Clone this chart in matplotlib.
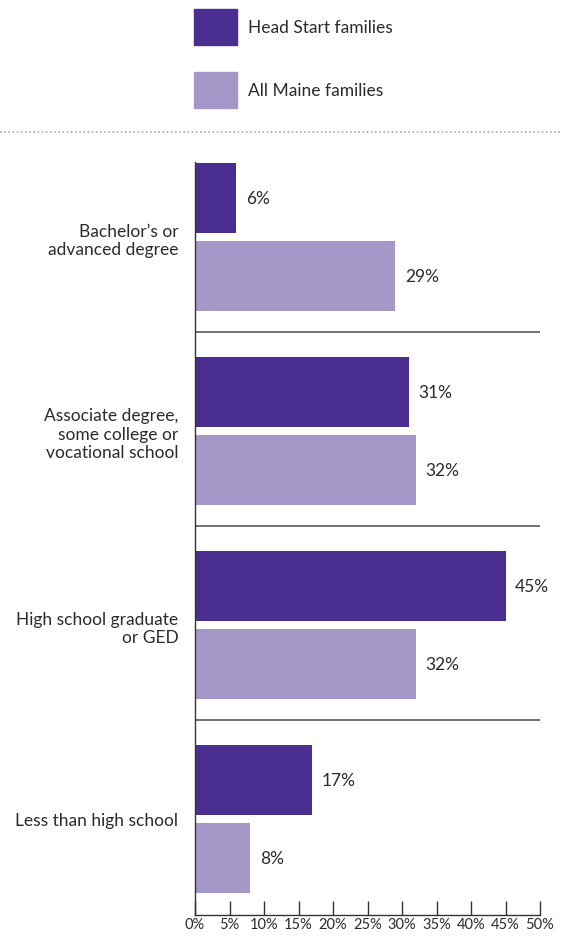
import matplotlib.pyplot as plt
import matplotlib.patches as mpatches
import numpy as np

plt.rcParams['font.family'] = ['Lato', 'DejaVu Sans']

# data
categories = ["Bachelor\u2019s or\nadvanced degree",
              "Associate degree,\nsome college or\nvocational school",
              "High school graduate\nor GED",
              "Less than high school"]
head_start = [6, 31, 45, 17]
all_maine  = [29, 32, 32, 8]
series_names = ["Head Start families", "All Maine families"]
colors = ["#4a2f91", "#a597c8"]
xticks = [0, 5, 10, 15, 20, 25, 30, 35, 40, 45, 50]

W, H = 561, 937
fig = plt.figure(figsize=(W/100., H/100.), dpi=100)

# axes placed in pixel terms
x0, x1 = 195, 540
ytop, ybot = 163, 916
ax = fig.add_axes([x0/W, 1-ybot/H, (x1-x0)/W, (ybot-ytop)/H])

ypos = np.arange(len(categories))
bh = 0.36
off = 0.201

ax.barh(ypos-off, head_start, height=bh, color=colors[0])
ax.barh(ypos+off, all_maine, height=bh, color=colors[1])

tc = "#2b2b2b"
for y, v in zip(ypos-off, head_start):
    ax.annotate("%d%%" % v, (v, y), xytext=(7, 0), textcoords='offset points',
                va='center', ha='left', fontsize=12.5, color=tc)
for y, v in zip(ypos+off, all_maine):
    ax.annotate("%d%%" % v, (v, y), xytext=(7, 0), textcoords='offset points',
                va='center', ha='left', fontsize=12.5, color=tc)

# separators between groups
for y in ypos[:-1]+0.49:
    ax.axhline(y, color="#666666", lw=1.3)

ax.set_xlim(0, 50)
ax.set_ylim(3.495, -0.387)
ax.set_xticks(xticks)
ax.set_xticklabels(["%d%%" % t for t in xticks], fontsize=10.5, color=tc)
ax.set_yticks(ypos)
ax.set_yticklabels(categories, fontsize=12.5, color=tc, linespacing=1.2)
ax.tick_params(axis='y', length=0, pad=12)
ax.tick_params(axis='x', direction='in', length=10, width=1, color="#333333", pad=1.5)
for s in ['top', 'right']:
    ax.spines[s].set_visible(False)
ax.spines['left'].set_color("#333333")
ax.spines['bottom'].set_color("#333333")
ax.spines['left'].set_linewidth(1)
ax.spines['bottom'].set_linewidth(1)

# legend drawn by hand
leg_y = [10, 73]
for name, c, ly in zip(series_names, colors, leg_y):
    fig.patches.append(mpatches.Rectangle((194/W, 1-(ly+36)/H), 43/W, 36/H,
                                          transform=fig.transFigure, color=c))
    fig.text(248/W, 1-(ly+18)/H, name, fontsize=12.5, color=tc, va='center', ha='left')

# dotted divider
fig.add_artist(plt.Line2D([0, 1], [1-133/H, 1-133/H], transform=fig.transFigure,
                          color="#a9a4cf", lw=1.2, ls=(0, (1, 1.5))))

fig.savefig("out.png", dpi=100)
